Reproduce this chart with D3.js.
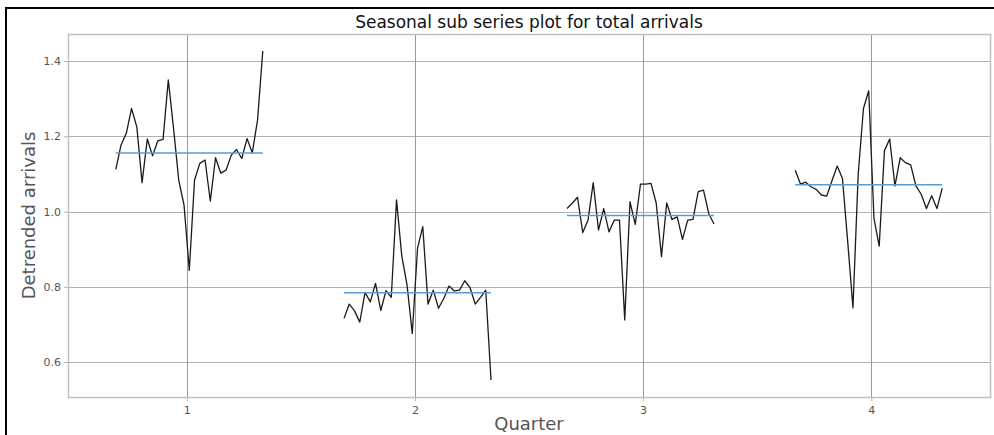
<!DOCTYPE html>
<html>
<head>
<meta charset="utf-8">
<script src="https://cdn.jsdelivr.net/npm/d3@7"></script>
<style>
  html, body { margin: 0; padding: 0; background: #fff; }
  svg { display: block; }
  text { font-family: "DejaVu Sans", sans-serif; }
</style>
</head>
<body>
<svg id="chart" width="994" height="435"></svg>
<script>
// Detrended arrivals, one series per quarter (one value per year)
const quarters = [1, 2, 3, 4];
const q1Values = [1.112, 1.177, 1.208, 1.274, 1.225, 1.077, 1.193, 1.148, 1.188, 1.192,
                  1.350, 1.221, 1.082, 1.017, 0.844, 1.084, 1.128, 1.137, 1.028, 1.143,
                  1.102, 1.110, 1.150, 1.165, 1.141, 1.194, 1.156, 1.243, 1.427];
const q2Values = [0.716, 0.754, 0.736, 0.706, 0.785, 0.760, 0.809, 0.737, 0.790, 0.772,
                  1.031, 0.882, 0.805, 0.676, 0.902, 0.960, 0.754, 0.791, 0.743, 0.769,
                  0.802, 0.789, 0.791, 0.816, 0.798, 0.754, 0.772, 0.791, 0.552];
const q3Values = [1.008, 1.022, 1.038, 0.944, 0.977, 1.077, 0.951, 1.008, 0.946, 0.977,
                  0.977, 0.712, 1.026, 0.966, 1.073, 1.073, 1.075, 1.022, 0.880, 1.023,
                  0.979, 0.986, 0.926, 0.977, 0.979, 1.053, 1.057, 0.995, 0.967];
const q4Values = [1.110, 1.073, 1.078, 1.066, 1.059, 1.044, 1.041, 1.082, 1.121, 1.088,
                  0.920, 0.744, 1.100, 1.274, 1.321, 0.982, 0.908, 1.162, 1.193, 1.068,
                  1.143, 1.130, 1.124, 1.068, 1.046, 1.008, 1.042, 1.008, 1.062];
// The record starts in Q3, so Q1 and Q2 begin one year later
const firstYear = [1, 1, 0, 0];
const yTicks = [0.6, 0.8, 1.0, 1.2, 1.4];
const xTickLabels = ["1", "2", "3", "4"];

const seriesValues = [q1Values, q2Values, q3Values, q4Values];

const svg = d3.select("#chart");
const W = 994, H = 435;
const plot = { left: 68, top: 34, right: 990, bottom: 397 };

// outer frame
svg.append("path")
  .attr("d", `M6,${H + 5} L6,8 L${W + 5},8`)
  .attr("fill", "none").attr("stroke", "#000").attr("stroke-width", 2);

const x = d3.scaleLinear().domain([0.48, 4.52]).range([plot.left, plot.right]);
const y = d3.scaleLinear().domain([0.507, 1.472]).range([plot.bottom, plot.top]);
// position of a year inside its quarter's slot
const yearOffset = d3.scaleLinear().domain([0, 29]).range([-0.3335, 0.3335]);

const gridColor = "#b0b0b0";

// grid
svg.append("g").selectAll("line.h").data(yTicks).join("line")
  .attr("x1", plot.left).attr("x2", plot.right)
  .attr("y1", d => Math.round(y(d)) + 0.5).attr("y2", d => Math.round(y(d)) + 0.5)
  .attr("stroke", gridColor).attr("stroke-width", 1);
svg.append("g").selectAll("line.v").data(quarters).join("line")
  .attr("y1", plot.top).attr("y2", plot.bottom)
  .attr("x1", d => Math.round(x(d)) + 0.5).attr("x2", d => Math.round(x(d)) + 0.5)
  .attr("stroke", "#999").attr("stroke-width", 1);

// axes
const yAxis = d3.axisLeft(y).tickValues(yTicks).tickFormat(d3.format(".1f")).tickSize(4).tickPadding(3);
const gy = svg.append("g").attr("transform", `translate(${plot.left},0)`).call(yAxis);
const xAxis = d3.axisBottom(x).tickValues(quarters).tickFormat((d, i) => xTickLabels[i]).tickSize(4).tickPadding(5);
const gx = svg.append("g").attr("transform", `translate(0,${plot.bottom})`).call(xAxis);
[gx, gy].forEach(g => {
  g.select(".domain").remove();
  g.selectAll(".tick line").attr("stroke", gridColor);
  g.selectAll(".tick text").attr("fill", "#555").attr("font-size", 11)
    .attr("font-family", "DejaVu Sans, sans-serif");
});

// plot frame
svg.append("rect")
  .attr("x", plot.left + 0.5).attr("y", plot.top + 0.5)
  .attr("width", plot.right - plot.left).attr("height", plot.bottom - plot.top)
  .attr("fill", "none").attr("stroke", "#c0c0c0").attr("stroke-width", 1.5);

// sub series lines with their means
const line = d3.line().x(d => x(d.x)).y(d => y(d.v));
quarters.forEach((q, qi) => {
  const pts = seriesValues[qi].map((v, i) => ({ x: q + yearOffset(firstYear[qi] + i), v }));
  svg.append("path").datum(pts)
    .attr("d", line)
    .attr("fill", "none").attr("stroke", "#1a1a1a").attr("stroke-width", 1.3)
    .attr("stroke-linejoin", "round");
  const m = d3.mean(seriesValues[qi]);
  svg.append("line")
    .attr("x1", x(pts[0].x)).attr("x2", x(pts[pts.length - 1].x))
    .attr("y1", y(m)).attr("y2", y(m))
    .attr("stroke", "#5b9bd0").attr("stroke-width", 1.6);
});

// titles
svg.append("text")
  .attr("x", (plot.left + plot.right) / 2).attr("y", 28)
  .attr("text-anchor", "middle").attr("font-size", 17).attr("fill", "#111")
  .text("Seasonal sub series plot for total arrivals");
svg.append("text")
  .attr("x", (plot.left + plot.right) / 2).attr("y", 430)
  .attr("text-anchor", "middle").attr("font-size", 18).attr("fill", "#555")
  .text("Quarter");
svg.append("text")
  .attr("transform", `translate(35,${(plot.top + plot.bottom) / 2}) rotate(-90)`)
  .attr("text-anchor", "middle").attr("font-size", 18).attr("fill", "#555")
  .text("Detrended arrivals");
</script>
</body>
</html>
